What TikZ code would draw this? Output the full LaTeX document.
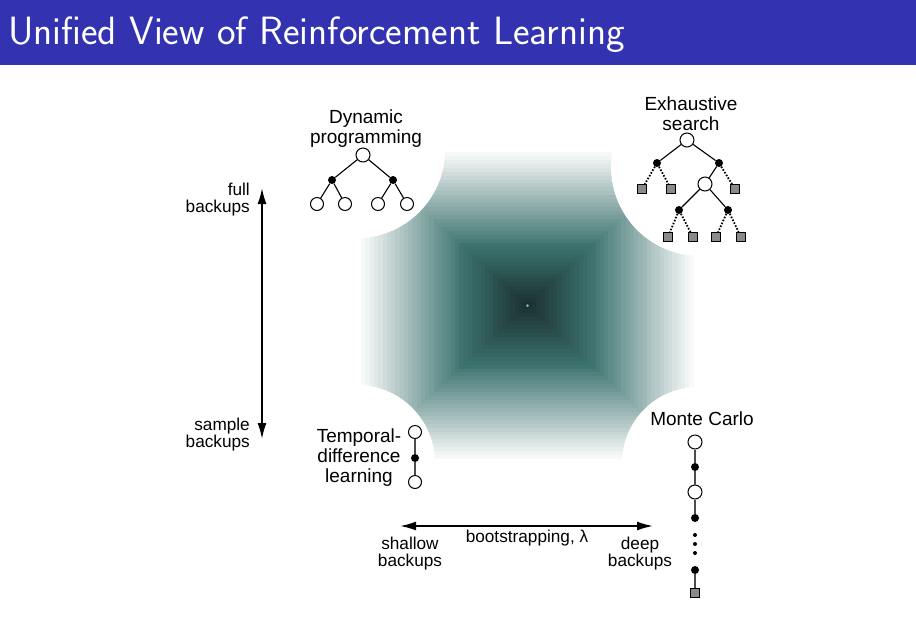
\documentclass[tikz,border=0pt]{standalone}
\usepackage{fontspec}
\setmainfont{Liberation Sans}
\usetikzlibrary{arrows.meta}
\definecolor{barra}{RGB}{51,51,178}
\definecolor{verde}{RGB}{62,116,112}
\definecolor{escuro}{RGB}{27,50,50}
\definecolor{cinza}{RGB}{138,138,138}
\begin{document}
\begin{tikzpicture}[x=1pt,y=-1pt,
    aberto/.style={circle, draw=black, fill=white, line width=1pt, inner sep=0pt, minimum size=14pt},
    ponto/.style={circle, fill=black, inner sep=0pt, minimum size=8pt},
    pontinho/.style={circle, fill=black, inner sep=0pt, minimum size=4pt},
    folha/.style={rectangle, draw=black, fill=cinza, line width=0.8pt, inner sep=0pt, minimum size=9pt},
    aresta/.style={line width=1.1pt},
    cadeia/.style={line width=1.1pt, draw=black!70},
    pontilhado/.style={line width=1.8pt, dash pattern=on 1.6pt off 1.6pt},
    rotulo/.style={font=\fontsize{19}{20}\selectfont, align=center, inner sep=0pt},
    eixo/.style={font=\fontsize{17.2}{17}\selectfont, inner sep=0pt},
    seta/.style={line width=1.8pt, {Latex[length=16pt,width=9pt]}-{Latex[length=16pt,width=9pt]}}]
    % Fundo
    \useasboundingbox (0,0) rectangle (916,625);
    \fill[white] (0,0) rectangle (916,625);

    % Gradiente em degraus (branco -> verde -> escuro)
    \foreach \i in {0,...,23} {
        \pgfmathsetmacro{\s}{1-\i/40}
        \pgfmathtruncatemacro{\p}{\i*100/24}
        \fill[verde!\p!white] ({527.5-170.5*\s},{305.5-157.5*\s}) rectangle ({527.5+170.5*\s},{305.5+157.5*\s});
    }
    \foreach \i in {24,...,39} {
        \pgfmathsetmacro{\s}{1-\i/40}
        \pgfmathtruncatemacro{\p}{(\i-24)*100/15}
        \fill[escuro!\p!verde] ({527.5-170.5*\s},{305.5-157.5*\s}) rectangle ({527.5+170.5*\s},{305.5+157.5*\s});
    }
    \fill[verde!60!white] (527.5,305.5) circle[radius=1.5pt];

    % Cantos recortados
    \fill[white] (357,150) circle[radius=88pt];
    \fill[white] (700,167) circle[radius=89pt];
    \fill[white] (357,463) circle[radius=78pt];
    \fill[white] (698,463) circle[radius=76pt];

    % Barra do titulo
    \fill[barra] (0,0) rectangle (916,65);
    \node at (8,44) (titulo) [anchor=base west, text=white, inner sep=0pt, font=\sffamily\fontsize{39.5}{42}\selectfont] {Unified View of Reinforcement Learning};

    % Programacao dinamica
    \node at (366,110) (dp) [rotulo, anchor=north] {Dynamic\\programming};
    \node at (363,155) (d0) [aberto] {};
    \node at (332,180) (d1) [ponto] {};
    \node at (393,180) (d2) [ponto] {};
    \node at (317,204) (d3) [aberto, minimum size=13pt] {};
    \node at (345,204) (d4) [aberto, minimum size=13pt] {};
    \node at (378,204) (d5) [aberto, minimum size=13pt] {};
    \node at (407,204) (d6) [aberto, minimum size=13pt] {};
    \draw[aresta] (d0) -- (d1);
    \draw[aresta] (d0) -- (d2);
    \draw[aresta] (d1) -- (d3);
    \draw[aresta] (d1) -- (d4);
    \draw[aresta] (d2) -- (d5);
    \draw[aresta] (d2) -- (d6);

    % Busca exaustiva
    \node at (691,97) (es) [rotulo, anchor=north] {Exhaustive\\search};
    \node at (687,140) (e0) [aberto] {};
    \node at (657,163) (e1) [ponto] {};
    \node at (719,163) (e2) [ponto] {};
    \node at (705,184) (e3) [aberto] {};
    \node at (679,210) (e4) [ponto] {};
    \node at (728,210) (e5) [ponto] {};
    \node at (642,189) (s1) [folha] {};
    \node at (671,189) (s2) [folha] {};
    \node at (735,189) (s3) [folha] {};
    \node at (668,237) (s4) [folha] {};
    \node at (693,237) (s5) [folha] {};
    \node at (716,237) (s6) [folha] {};
    \node at (741,237) (s7) [folha] {};
    \draw[aresta] (e0) -- (e1);
    \draw[aresta] (e0) -- (e2);
    \draw[aresta] (e2) -- (e3);
    \draw[aresta] (e3) -- (e4);
    \draw[aresta] (e3) -- (e5);
    \draw[pontilhado] (e1) -- (s1);
    \draw[pontilhado] (e1) -- (s2);
    \draw[pontilhado] (e2) -- (s3);
    \draw[pontilhado] (e4) -- (s4);
    \draw[pontilhado] (e4) -- (s5);
    \draw[pontilhado] (e5) -- (s6);
    \draw[pontilhado] (e5) -- (s7);

    % Diferenca temporal
    \node at (359,429) (td) [rotulo, anchor=north] {Temporal-\\difference\\learning};
    \node at (415,432) (t0) [aberto, minimum size=13pt] {};
    \node at (415,458) (t1) [ponto] {};
    \node at (415,482) (t2) [aberto, minimum size=13pt] {};
    \draw[cadeia] (t0) -- (t1);
    \draw[cadeia] (t1) -- (t2);

    % Monte Carlo
    \node at (702,425) (mc) [rotulo, anchor=base] {Monte Carlo};
    \node at (695,442) (m0) [aberto] {};
    \node at (695,467) (m1) [ponto] {};
    \node at (695,492) (m2) [aberto] {};
    \node at (695,518) (m3) [ponto] {};
    \node at (695,535) (r1) [pontinho] {};
    \node at (695,544) (r2) [pontinho] {};
    \node at (695,553) (r3) [pontinho] {};
    \node at (695,570) (m4) [ponto] {};
    \node at (695,593) (m5) [folha] {};
    \draw[cadeia] (m0) -- (m1);
    \draw[cadeia] (m1) -- (m2);
    \draw[cadeia] (m2) -- (m3);
    \draw[cadeia] (m4) -- (m5);

    % Eixo vertical
    \coordinate (cima) at (262,188);
    \coordinate (baixo) at (262,439);
    \draw[seta] (cima) -- (baixo);
    \node at (250,183) (full) [eixo, anchor=north east, align=right] {full\\backups};
    \node at (250,418) (sample) [eixo, anchor=north east, align=right] {sample\\backups};

    % Eixo horizontal
    \coordinate (esq) at (400,526);
    \coordinate (dir) at (653,526);
    \draw[seta] (esq) -- (dir);
    \node at (527,542) (boot) [eixo, anchor=base] {bootstrapping, λ};
    \node at (410,537) (shallow) [eixo, anchor=north, align=center] {shallow\\backups};
    \node at (640,537) (deep) [eixo, anchor=north, align=center] {deep\\backups};
\end{tikzpicture}
\end{document}
